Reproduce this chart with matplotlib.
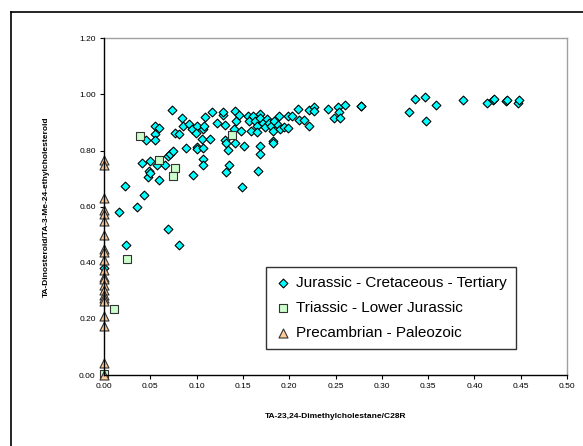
import matplotlib
matplotlib.use("Agg")
import matplotlib.pyplot as plt
from matplotlib.lines import Line2D

plt.rcParams['font.family'] = ['Liberation Sans', 'DejaVu Sans']

# Jurassic - Cretaceous - Tertiary
jur_x = [0.073, 0.016, 0.023, 0.024, 0.036, 0.043, 0.041, 0.045, 0.050, 0.049,
         0.048, 0.050, 0.055, 0.055, 0.055, 0.059, 0.057, 0.059, 0.066, 0.069,
         0.071, 0.074, 0.069, 0.081, 0.077, 0.081, 0.084, 0.085, 0.089, 0.092,
         0.096, 0.095, 0.100, 0.099, 0.100, 0.100, 0.107, 0.106, 0.107, 0.107,
         0.107, 0.109, 0.108, 0.115, 0.117, 0.122, 0.128, 0.129, 0.131, 0.131,
         0.132, 0.132, 0.134, 0.135, 0.141, 0.140, 0.141, 0.143, 0.146, 0.148,
         0.151, 0.149, 0.156, 0.157, 0.159, 0.161, 0.163, 0.165, 0.165, 0.166,
         0.168, 0.168, 0.169, 0.168, 0.172, 0.174, 0.176, 0.178, 0.180, 0.182,
         0.184, 0.183, 0.183, 0.188, 0.189, 0.190, 0.194, 0.199, 0.199, 0.203,
         0.209, 0.211, 0.216, 0.221, 0.221, 0.227, 0.227, 0.242, 0.248, 0.253,
         0.254, 0.255, 0.260, 0.277, 0.278, 0.329, 0.336, 0.347, 0.348, 0.359,
         0.388, 0.414, 0.420, 0.421, 0.434, 0.435, 0.447, 0.448, 0.0]
jur_y = [0.945, 0.580, 0.673, 0.463, 0.600, 0.640, 0.754, 0.839, 0.762, 0.726,
         0.705, 0.720, 0.886, 0.858, 0.839, 0.881, 0.748, 0.696, 0.750, 0.780,
         0.786, 0.797, 0.519, 0.463, 0.861, 0.858, 0.917, 0.889, 0.808, 0.895,
         0.713, 0.878, 0.886, 0.863, 0.814, 0.806, 0.875, 0.840, 0.808, 0.770,
         0.748, 0.921, 0.888, 0.841, 0.939, 0.898, 0.927, 0.937, 0.892, 0.839,
         0.827, 0.725, 0.802, 0.750, 0.940, 0.877, 0.827, 0.904, 0.928, 0.869,
         0.815, 0.671, 0.922, 0.904, 0.869, 0.922, 0.907, 0.889, 0.865, 0.726,
         0.931, 0.916, 0.815, 0.786, 0.898, 0.884, 0.912, 0.898, 0.889, 0.869,
         0.905, 0.835, 0.827, 0.892, 0.924, 0.875, 0.883, 0.880, 0.922, 0.922,
         0.948, 0.910, 0.910, 0.943, 0.886, 0.954, 0.940, 0.948, 0.917, 0.955,
         0.936, 0.916, 0.963, 0.957, 0.960, 0.939, 0.985, 0.992, 0.904, 0.963,
         0.981, 0.969, 0.981, 0.985, 0.977, 0.980, 0.969, 0.981, 0.381]

# Triassic - Lower Jurassic
tri_x = [0.039, 0.059, 0.077, 0.075, 0.138, 0.025, 0.011, 0.0]
tri_y = [0.851, 0.766, 0.737, 0.709, 0.857, 0.412, 0.235, 0.004]

# Precambrian - Paleozoic
pre_y = [0.768, 0.748, 0.632, 0.588, 0.575, 0.549, 0.500, 0.448, 0.440, 0.410,
         0.374, 0.351, 0.341, 0.320, 0.302, 0.284, 0.276, 0.264, 0.211, 0.173,
         0.043, 0.0]
pre_x = [0.0] * len(pre_y)

labels = ["Jurassic - Cretaceous - Tertiary", "Triassic - Lower Jurassic",
          "Precambrian - Paleozoic"]

fig = plt.figure(figsize=(5.83, 4.46), dpi=100)
ax = fig.add_axes([104/583, 1 - 375/446, 463/583, 336.7/446])

ax.scatter(jur_x, jur_y, marker='D', s=20, c='#00FFFF', edgecolors='black',
           linewidths=0.8, clip_on=False, label=labels[0], zorder=2)
ax.scatter(tri_x, tri_y, marker='s', s=30, c='#CCFFCC', edgecolors='#333333',
           linewidths=0.8, clip_on=False, label=labels[1], zorder=2)
ax.scatter(pre_x, pre_y, marker='^', s=42, c='#FFCC99', edgecolors='#333333',
           linewidths=0.8, clip_on=False, label=labels[2], zorder=2)

ax.set_xlim(0, 0.5)
ax.set_ylim(0, 1.2)
ax.set_xticks([i * 0.05 for i in range(11)])
ax.set_yticks([i * 0.2 for i in range(7)])
ax.xaxis.set_major_formatter(matplotlib.ticker.FormatStrFormatter('%.2f'))
ax.yaxis.set_major_formatter(matplotlib.ticker.FormatStrFormatter('%.2f'))
ax.tick_params(labelsize=6, length=3, width=0.8, pad=3, direction='out')

for side in ['left', 'bottom']:
    ax.spines[side].set_color('black')
    ax.spines[side].set_linewidth(1.0)
    ax.spines[side].set_zorder(3)
for side in ['top', 'right']:
    ax.spines[side].set_color('#A0A0A0')
    ax.spines[side].set_linewidth(1.0)

ax.set_xlabel('TA-23,24-Dimethylcholestane/C28R', fontsize=6, fontweight='bold',
              labelpad=16)
ax.set_ylabel('TA-Dinosteroid/TA-3-Me-24-ethylcholesteroid', fontsize=6,
              fontweight='bold', labelpad=21)

leg = ax.legend(loc='upper left', bbox_to_anchor=(0.35, 0.32), borderaxespad=0,
                fontsize=11, frameon=True, fancybox=False, edgecolor='black',
                handlelength=1.0, handletextpad=0.35, labelspacing=0.7,
                borderpad=0.6, scatterpoints=1)
leg.get_frame().set_linewidth(1.0)

# outer chart border (runs off the right and bottom)
fig.add_artist(Line2D([11/583, 11/583], [0, 1 - 11.7/446], color='black', lw=1.2))
fig.add_artist(Line2D([11/583, 1], [1 - 11.7/446, 1 - 11.7/446], color='black', lw=1.2))

fig.savefig('out.png', dpi=100)
